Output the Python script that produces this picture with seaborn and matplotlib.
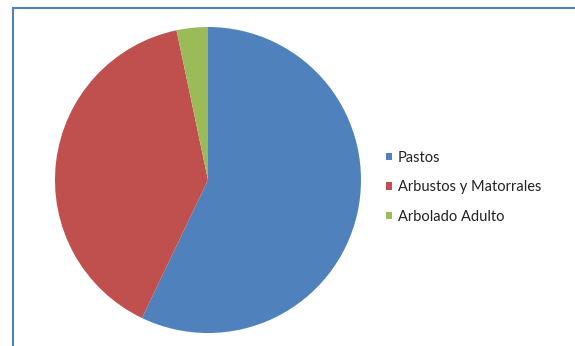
import matplotlib
matplotlib.use("Agg")
import matplotlib.pyplot as plt
from matplotlib.patches import Rectangle
import seaborn as sns

categories = ["Pastos", "Arbustos y Matorrales", "Arbolado Adulto"]
values = [57.1, 39.6, 3.3]
colors = ["#4F81BD", "#C0504D", "#9BBB59"]

sns.set_theme(style="white")
plt.rcParams['font.family'] = ['Lato', 'DejaVu Sans']

W, H = 575, 346
fig = plt.figure(figsize=(W / 100, H / 100), dpi=100)
fig.patch.set_facecolor("white")

cx, cy, r = 208, 180, 153
ax = fig.add_axes([(cx - r) / W, (H - cy - r) / H, 2 * r / W, 2 * r / H])
wedges, _ = ax.pie(values, colors=colors, startangle=90, counterclock=False,
                   radius=1, wedgeprops=dict(linewidth=0))
ax.set_xlim(-1, 1)
ax.set_ylim(-1, 1)
ax.set_aspect("equal")
ax.axis("off")

leg = fig.legend(wedges, categories, loc="upper left",
                 bbox_to_anchor=(386 / W, 1 - 150.5 / H),
                 frameon=False, fontsize=10.5, handlelength=0.42, handleheight=0.42,
                 handletextpad=0.4, labelspacing=1.07, borderpad=0, borderaxespad=0)
for t in leg.get_texts():
    t.set_color("#222222")

fig.patches.append(Rectangle((12.5 / W, -0.2), 1.5, (H - 8) / H + 0.2,
                             transform=fig.transFigure, fill=False,
                             edgecolor="#4F81BD", linewidth=1.5))

fig.savefig("out.png", dpi=100)
